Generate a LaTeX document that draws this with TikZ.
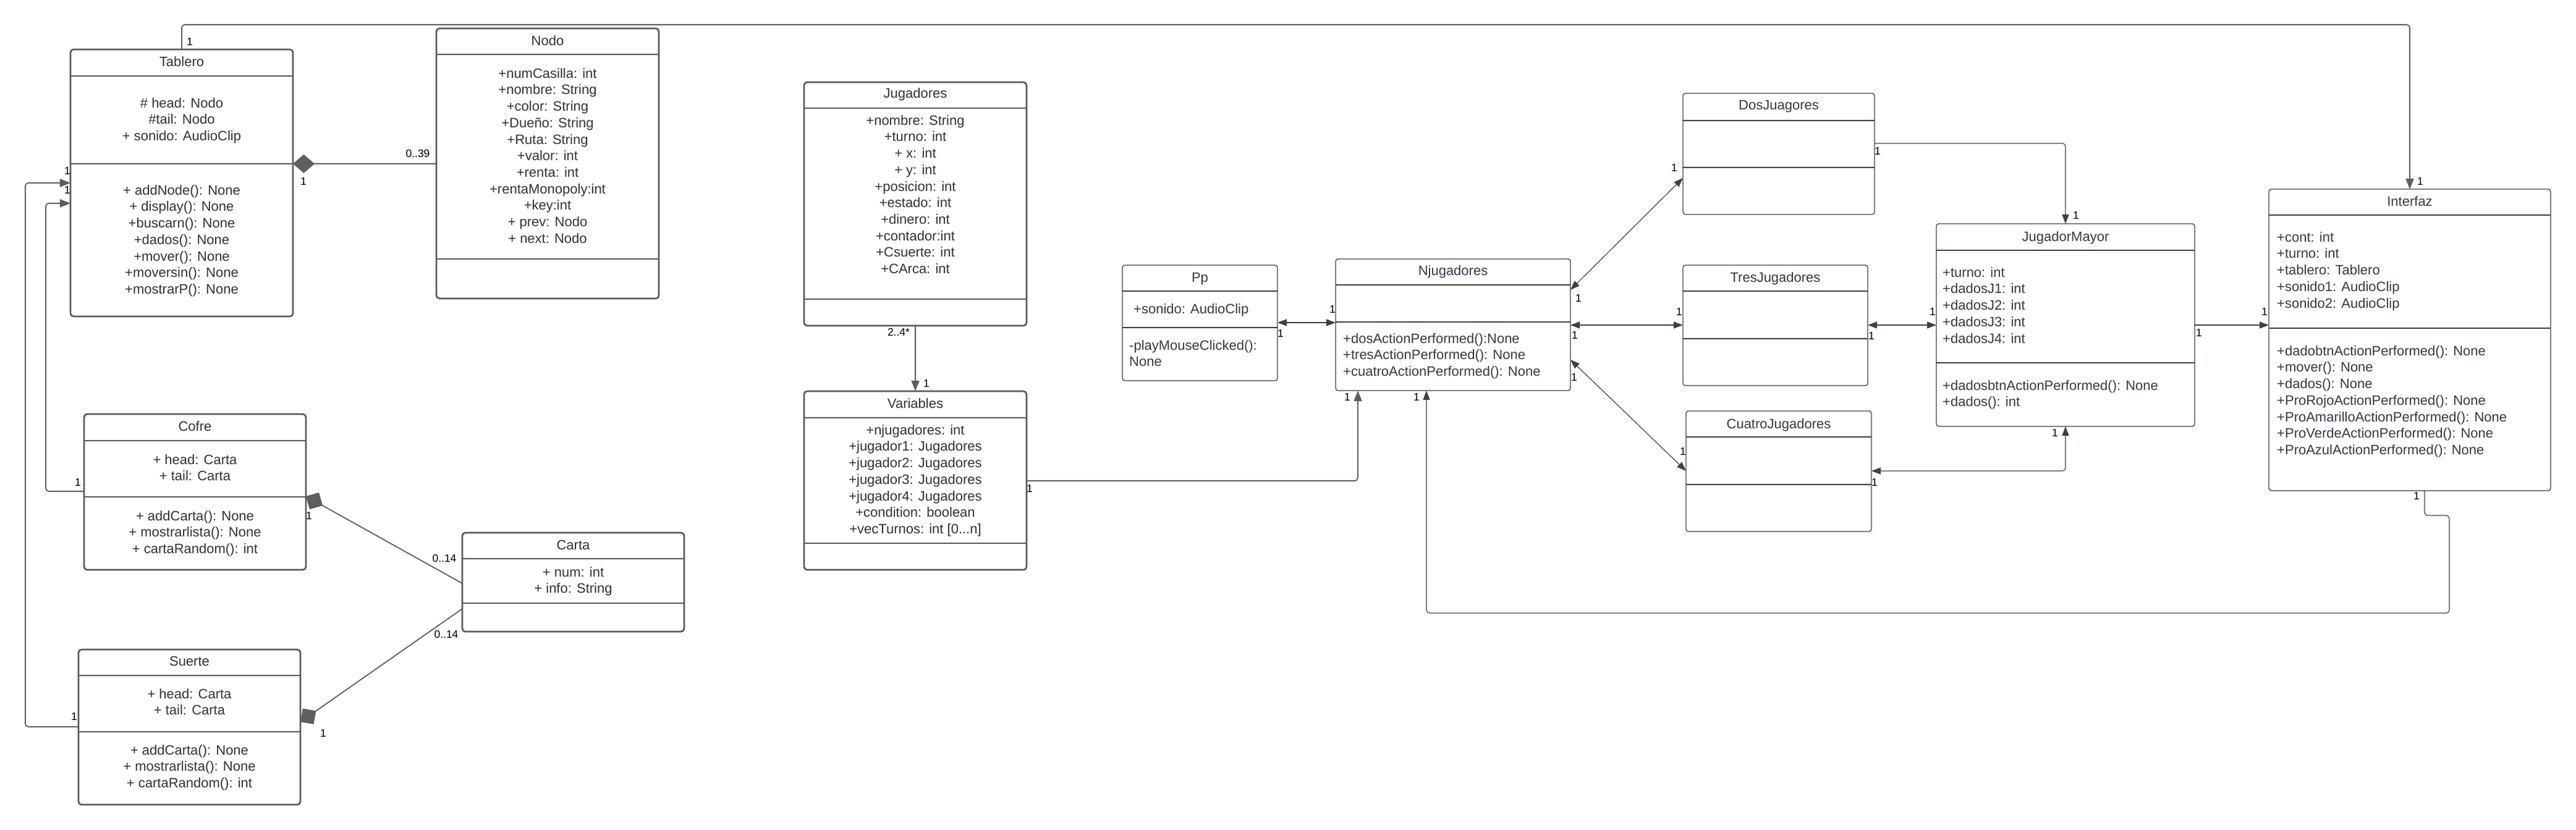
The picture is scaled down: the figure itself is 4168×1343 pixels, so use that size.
\documentclass[tikz,border=0pt]{standalone}
\usepackage{fontspec}
\setmainfont{Liberation Sans}
\usetikzlibrary{arrows.meta}
\definecolor{lbord}{HTML}{5A5A5A}
\definecolor{lline}{HTML}{5E5E5E}
\definecolor{rdark}{HTML}{3B414B}
\definecolor{ltext}{HTML}{333333}
\definecolor{rtext}{HTML}{343A44}
\newcommand\bodyfont{\fontsize{22}{26.7}\selectfont}
\newcommand\lblfont{\fontsize{17.5}{20}\selectfont}
\newcommand\fs{\rule{0pt}{16.5pt}}
\tikzset{
 ltip/.tip={Triangle[length=17pt,width=13pt]},
 rtip/.tip={Triangle[length=15pt,width=11pt]},
 lbox/.style={draw=lbord, line width=2.7pt, rounded corners=5pt, fill=white, inner sep=0pt, outer sep=0pt, anchor=north west},
 rbox/.style={draw=rdark, line width=1.3pt, rounded corners=4pt, fill=white, inner sep=0pt, outer sep=0pt, anchor=north west},
 lsep/.style={draw=lbord, line width=2.7pt},
 rsep/.style={draw=rdark, line width=1.3pt},
 ltitle/.style={text=ltext, font=\bodyfont, inner sep=0pt, anchor=base},
 rtitle/.style={text=rtext, font=\bodyfont, inner sep=0pt, anchor=base},
 lattr/.style={text=ltext, font=\bodyfont, inner sep=0pt, align=center, anchor=north},
 rattr/.style={text=rtext, font=\bodyfont, inner sep=0pt, align=left, anchor=north west},
 lbl/.style={text=black, font=\lblfont, inner sep=0pt},
 lconn/.style={draw=lline, line width=1.8pt, rounded corners=5pt},
 rconn/.style={draw=rdark, line width=1.2pt, rounded corners=5pt},
}
\begin{document}
\begin{tikzpicture}[x=1pt,y=-1pt]
\fill[white] (0,0) rectangle (4168,1343);
\useasboundingbox (0,0) rectangle (4168,1343);

% ---------- left boxes ----------
\node[lbox, minimum width=360pt, minimum height=432pt] (tablero) at (114,80) {};
\draw[lsep] (tablero.west |- 0,123) -- (tablero.east |- 0,123);
\draw[lsep] (tablero.west |- 0,265) -- (tablero.east |- 0,265);
\node[ltitle] (tablero-t) at (294,108) {Tablero};
\node[lattr] (tablero-a) at (294,157.5) {\fs\# head: Nodo\\\#tail: Nodo\\+ sonido: AudioClip};
\node[lattr] (tablero-m) at (294,298.5) {\fs+ addNode(): None\\+ display(): None\\+buscarn(): None\\+dados(): None\\+mover(): None\\+moversin(): None\\+mostrarP(): None};

\node[lbox, minimum width=360pt, minimum height=437pt] (nodo) at (706,46) {};
\draw[lsep] (nodo.west |- 0,88) -- (nodo.east |- 0,88);
\draw[lsep] (nodo.west |- 0,419) -- (nodo.east |- 0,419);
\node[ltitle] (nodo-t) at (886,74) {Nodo};
\node[lattr] (nodo-a) at (886,109.5) {\fs+numCasilla: int\\+nombre: String\\+color: String\\+Dueño: String\\+Ruta: String\\+valor: int\\+renta: int\\+rentaMonopoly:int\\+key:int\\+ prev: Nodo\\+ next: Nodo};

\node[lbox, minimum width=359pt, minimum height=252pt] (cofre) at (136,670) {};
\draw[lsep] (cofre.west |- 0,713) -- (cofre.east |- 0,713);
\draw[lsep] (cofre.west |- 0,804) -- (cofre.east |- 0,804);
\node[ltitle] (cofre-t) at (315.5,697) {Cofre};
\node[lattr] (cofre-a) at (315.5,734.5) {\fs+ head: Carta\\+ tail: Carta};
\node[lattr] (cofre-m) at (315.5,825.5) {\fs+ addCarta(): None\\+ mostrarlista(): None\\+ cartaRandom(): int};

\node[lbox, minimum width=359pt, minimum height=160pt] (carta) at (748,862) {};
\draw[lsep] (carta.west |- 0,904) -- (carta.east |- 0,904);
\draw[lsep] (carta.west |- 0,976) -- (carta.east |- 0,976);
\node[ltitle] (carta-t) at (927.5,889) {Carta};
\node[lattr] (carta-a) at (927.5,916.5) {\fs+ num: int\\+ info: String};

\node[lbox, minimum width=359pt, minimum height=251pt] (suerte) at (127,1051) {};
\draw[lsep] (suerte.west |- 0,1093) -- (suerte.east |- 0,1093);
\draw[lsep] (suerte.west |- 0,1184) -- (suerte.east |- 0,1184);
\node[ltitle] (suerte-t) at (306.5,1077) {Suerte};
\node[lattr] (suerte-a) at (306.5,1113.5) {\fs+ head: Carta\\+ tail: Carta};
\node[lattr] (suerte-m) at (306.5,1204.5) {\fs+ addCarta(): None\\+ mostrarlista(): None\\+ cartaRandom(): int};

\node[lbox, minimum width=360pt, minimum height=394pt] (jugadores) at (1301,133) {};
\draw[lsep] (jugadores.west |- 0,175) -- (jugadores.east |- 0,175);
\draw[lsep] (jugadores.west |- 0,484) -- (jugadores.east |- 0,484);
\node[ltitle] (jugadores-t) at (1481,159) {Jugadores};
\node[lattr] (jugadores-a) at (1481,185.5) {\fs+nombre: String\\+turno: int\\+ x: int\\+ y: int\\+posicion: int\\+estado: int\\+dinero: int\\+contador:int\\+Csuerte: int\\+CArca: int};

\node[lbox, minimum width=360pt, minimum height=289pt] (variables) at (1301,633) {};
\draw[lsep] (variables.west |- 0,676) -- (variables.east |- 0,676);
\draw[lsep] (variables.west |- 0,879) -- (variables.east |- 0,879);
\node[ltitle] (variables-t) at (1481,660) {Variables};
\node[lattr] (variables-a) at (1481,686.5) {\fs+njugadores: int\\+jugador1: Jugadores\\+jugador2: Jugadores\\+jugador3: Jugadores\\+jugador4: Jugadores\\+condition: boolean\\+vecTurnos: int [0...n]};

% ---------- right boxes ----------
\node[rbox, minimum width=251pt, minimum height=187pt] (pp) at (1816,429) {};
\draw[rsep] (pp.west |- 0,471) -- (pp.east |- 0,471);
\draw[rsep] (pp.west |- 0,530) -- (pp.east |- 0,530);
\node[rtitle] (pp-t) at (1941.5,456) {Pp};
\node[rattr] (pp-a) at (1834,490.5) {\fs+sonido: AudioClip};
\node[rattr] (pp-m) at (1827,549.5) {\fs-playMouseClicked():\\None};

\node[rbox, minimum width=380pt, minimum height=213pt] (nj) at (2161,419) {};
\draw[rsep] (nj.west |- 0,461) -- (nj.east |- 0,461);
\draw[rsep] (nj.west |- 0,521) -- (nj.east |- 0,521);
\node[rtitle] (nj-t) at (2351,445) {Njugadores};
\node[rattr] (nj-m) at (2173,538.5) {\fs+dosActionPerformed():None\\+tresActionPerformed(): None\\+cuatroActionPerformed(): None};

\node[rbox, minimum width=310pt, minimum height=196pt] (dos) at (2723,151) {};
\draw[rsep] (dos.west |- 0,195) -- (dos.east |- 0,195);
\draw[rsep] (dos.west |- 0,271) -- (dos.east |- 0,271);
\node[rtitle] (dos-t) at (2878,178) {DosJuagores};

\node[rbox, minimum width=299pt, minimum height=195pt] (tres) at (2723,429) {};
\draw[rsep] (tres.west |- 0,471) -- (tres.east |- 0,471);
\draw[rsep] (tres.west |- 0,548) -- (tres.east |- 0,548);
\node[rtitle] (tres-t) at (2872.5,456) {TresJugadores};

\node[rbox, minimum width=300pt, minimum height=195pt] (cuatro) at (2728,665) {};
\draw[rsep] (cuatro.west |- 0,707) -- (cuatro.east |- 0,707);
\draw[rsep] (cuatro.west |- 0,784) -- (cuatro.east |- 0,784);
\node[rtitle] (cuatro-t) at (2878,693) {CuatroJugadores};

\node[rbox, minimum width=418pt, minimum height=328pt] (jm) at (3133,362) {};
\draw[rsep] (jm.west |- 0,405) -- (jm.east |- 0,405);
\draw[rsep] (jm.west |- 0,587) -- (jm.east |- 0,587);
\node[rtitle] (jm-t) at (3342,390) {JugadorMayor};
\node[rattr] (jm-a) at (3143,431.5) {\fs+turno: int\\+dadosJ1: int\\+dadosJ2: int\\+dadosJ3: int\\+dadosJ4: int};
\node[rattr] (jm-m) at (3143,614.5) {\fs+dadosbtnActionPerformed(): None\\+dados(): int};

\node[rbox, minimum width=456pt, minimum height=488pt] (interfaz) at (3671,306) {};
\draw[rsep] (interfaz.west |- 0,348) -- (interfaz.east |- 0,348);
\draw[rsep] (interfaz.west |- 0,531) -- (interfaz.east |- 0,531);
\node[rtitle] (interfaz-t) at (3899,333) {Interfaz};
\node[rattr] (interfaz-a) at (3684,374.5) {\fs+cont: int\\+turno: int\\+tablero: Tablero\\+sonido1: AudioClip\\+sonido2: AudioClip};
\node[rattr] (interfaz-m) at (3684,558.5) {\fs+dadobtnActionPerformed(): None\\+mover(): None\\+dados(): None\\+ProRojoActionPerformed(): None\\+ProAmarilloActionPerformed(): None\\+ProVerdeActionPerformed(): None\\+ProAzulActionPerformed(): None};

% ---------- connectors (left) ----------
\draw[lconn, -{ltip}] (tablero.north) -- (tablero.north |- 0,40) -| (interfaz.north);
\draw[lconn, {Diamond[length=35pt,width=30pt]}-] (tablero.east |- 0,265) -- (nodo.west |- 0,265);
\draw[lconn, -{ltip}] (cofre.west |- 0,795) -| (74,329) -- (tablero.west |- 0,329);
\draw[lconn, -{ltip}] (suerte.west |- 0,1176) -| (41,296) -- (tablero.west |- 0,296);
\draw[lconn, {Diamond[length=31pt,width=31pt]}-] (cofre.east |- 0,803) -- (carta.west |- 0,944);
\draw[lconn, {Diamond[length=31pt,width=31pt]}-] (suerte.east |- 0,1168) -- (carta.west |- 0,985);
\draw[lconn, -{ltip}] (jugadores.south) -- (variables.north);
\draw[lconn, -{ltip}] (variables.east |- 0,778) -| (nj.south -| 2197,0);

% ---------- connectors (right) ----------
\draw[rconn, {rtip}-{rtip}] (pp.east |- 0,522) -- (nj.west |- 0,522);
\draw[rconn, {rtip}-{rtip}] (nj.east |- 0,469) -- (dos.west |- 0,288);
\draw[rconn, {rtip}-{rtip}] (nj.east |- 0,526) -- (tres.west |- 0,526);
\draw[rconn, {rtip}-{rtip}] (nj.east |- 0,582) -- (cuatro.west |- 0,762);
\draw[rconn, -{rtip}] (dos.east |- 0,232) -| (jm.north);
\draw[rconn, {rtip}-{rtip}] (tres.east |- 0,526) -- (jm.west |- 0,526);
\draw[rconn, {rtip}-{rtip}] (jm.south) |- (cuatro.east |- 0,762);
\draw[rconn, -{rtip}] (jm.east |- 0,526) -- (interfaz.west |- 0,526);
\draw[rconn, -{rtip}] (interfaz.south -| 3923,0) |- (3963,834) |- (2308,992) -- (nj.south -| 2308,0);

% ---------- multiplicities ----------
\node[lbl] (m1) at (307,67) {1};
\node[lbl] (m2) at (3916,293) {1};
\node[lbl] (m3) at (676,248) {0..39};
\node[lbl] (m4) at (491,293) {1};
\node[lbl] (m5) at (109,276) {1};
\node[lbl] (m6) at (109,307) {1};
\node[lbl] (m7) at (126,780) {1};
\node[lbl] (m8) at (120,1159) {1};
\node[lbl] (m9) at (500,834) {1};
\node[lbl] (m10) at (719,903) {0..14};
\node[lbl] (m11) at (722,1026) {0..14};
\node[lbl] (m12) at (523,1186) {1};
\node[lbl] (m13) at (1454,537) {2..4*};
\node[lbl] (m14) at (1499,620) {1};
\node[lbl] (m15) at (1666,790) {1};
\node[lbl] (m16) at (2180,642) {1};
\node[lbl] (m17) at (2072,539) {1};
\node[lbl] (m18) at (2156,500) {1};
\node[lbl] (m19) at (2554,482) {1};
\node[lbl] (m20) at (2709,271) {1};
\node[lbl] (m21) at (2548,542) {1};
\node[lbl] (m22) at (2717,504) {1};
\node[lbl] (m23) at (2547,610) {1};
\node[lbl] (m24) at (2723,730) {1};
\node[lbl] (m25) at (3038,244) {1};
\node[lbl] (m26) at (3359,348) {1};
\node[lbl] (m27) at (3028,543) {1};
\node[lbl] (m28) at (3127,504) {1};
\node[lbl] (m29) at (3033,780) {1};
\node[lbl] (m30) at (3325,700) {1};
\node[lbl] (m31) at (3558,538) {1};
\node[lbl] (m32) at (3664,504) {1};
\node[lbl] (m33) at (3910,802) {1};
\node[lbl] (m34) at (2292,642) {1};
\end{tikzpicture}
\end{document}
